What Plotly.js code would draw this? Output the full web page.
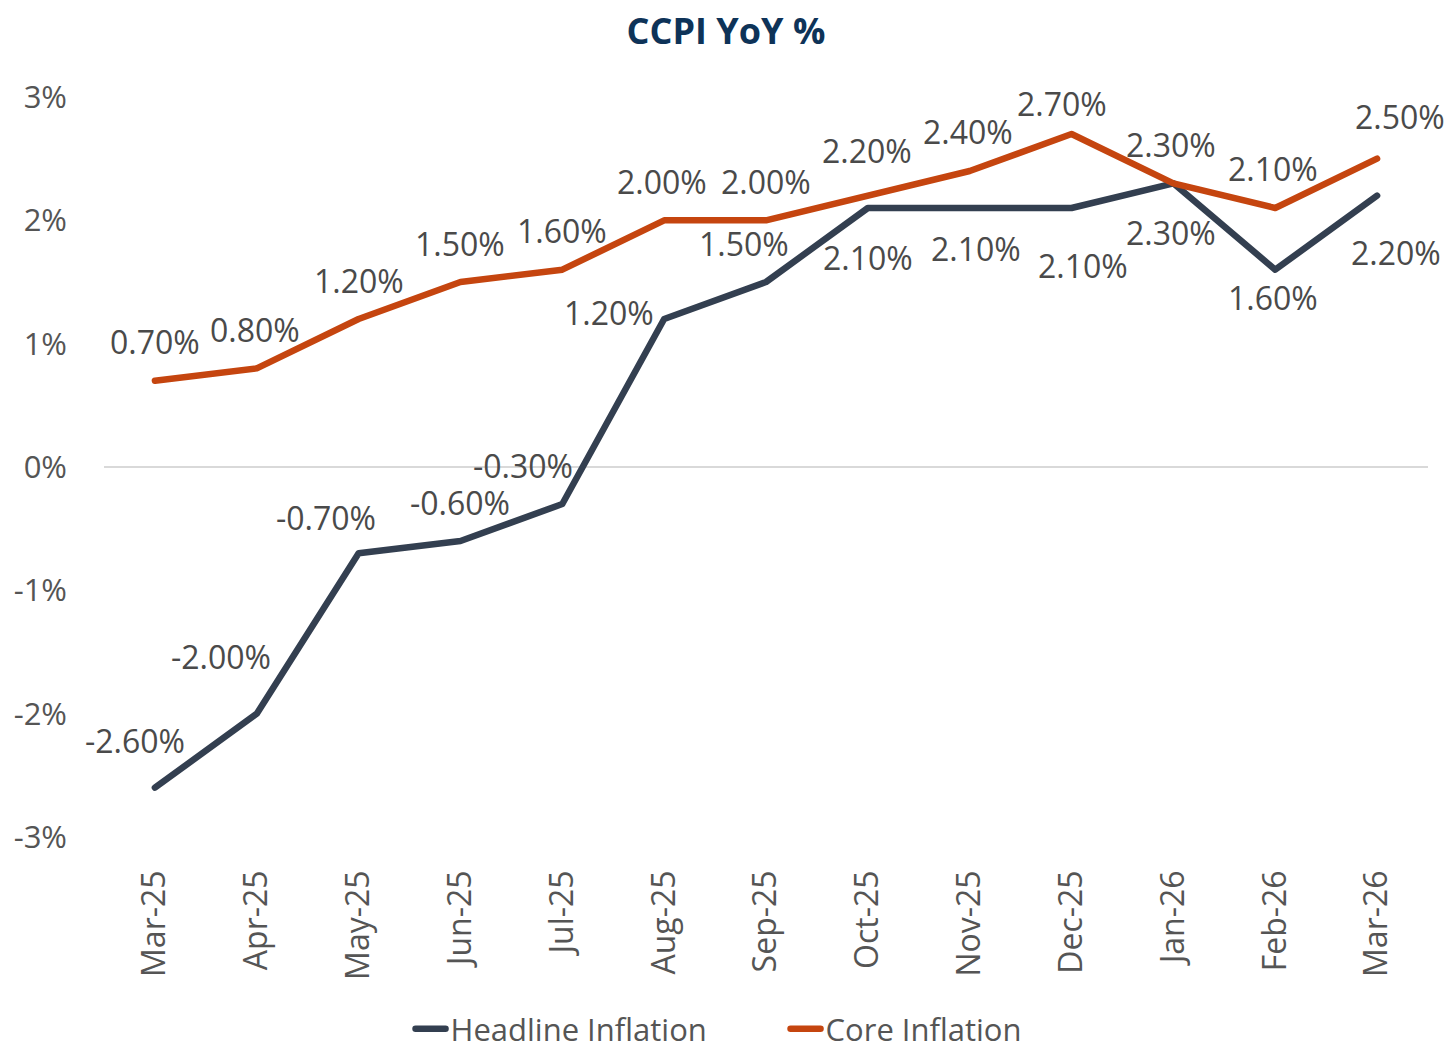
<!DOCTYPE html>
<html>
<head>
<meta charset="utf-8">
<script src="https://cdn.plot.ly/plotly-3.0.1.min.js"></script>
<style>
html,body{margin:0;padding:0;background:#fff;}
#chart{width:1452px;height:1056px;}
#chart path.js-line{stroke-linecap:round;stroke-linejoin:round;}
</style>
</head>
<body>
<div id="chart"></div>
<script>
const categories = ["Mar-25","Apr-25","May-25","Jun-25","Jul-25","Aug-25","Sep-25","Oct-25","Nov-25","Dec-25","Jan-26","Feb-26","Mar-26"];
const headline = [-2.6,-2.0,-0.7,-0.6,-0.3,1.2,1.5,2.1,2.1,2.1,2.3,1.6,2.2];
const core = [0.7,0.8,1.2,1.5,1.6,2.0,2.0,2.2,2.4,2.7,2.3,2.1,2.5];
const yTicks = [-3,-2,-1,0,1,2,3];

// label offsets (pixels) – styling only
const headDx = [-20,-36,-33,0,-39,-55,-22,0,6,11,-2,-2,19];
const headDy = [47,57,36,39,39,7,39,-49,-40,-57,-49,-28,-57];
const coreDx = [0,-2,0,0,0,-2,0,-1,-2,-10,-2,-2,23];
const coreDy = [39,39,39,39,39,39,39,45,40,31,39,40,42];

const headColor = "#333F50";
const coreColor = "#C5450F";
const textColor = "#555555";
const font = "Open Sans, Noto Sans, sans-serif";

const traces = [
  {x: categories, y: headline, name: "Headline Inflation", type: "scatter", mode: "lines",
   line: {color: headColor, width: 6.5}},
  {x: categories, y: core, name: "Core Inflation", type: "scatter", mode: "lines",
   line: {color: coreColor, width: 6.5}}
];

const annotations = [];
categories.forEach((c, i) => {
  annotations.push({x: c, y: headline[i], text: headline[i].toFixed(2) + "%", showarrow: false,
    xshift: headDx[i], yshift: headDy[i], font: {family: font, size: 32, color: "#4A4A4A"}});
  annotations.push({x: c, y: core[i], text: core[i].toFixed(2) + "%", showarrow: false,
    xshift: coreDx[i], yshift: coreDy[i], font: {family: font, size: 32, color: "#4A4A4A"}});
});

const layout = {
  width: 1452, height: 1056,
  margin: {l: 104, r: 24, t: 97, b: 219},
  paper_bgcolor: "#fff", plot_bgcolor: "#fff",
  title: {text: "<b>CCPI YoY %</b>", x: 0.5, xanchor: "center", y: 0.97, yanchor: "middle",
    font: {family: "Open Sans, sans-serif", size: 36, color: "#0E3358"}},
  xaxis: {type: "category", range: [-0.5, 12.5], showgrid: false, zeroline: false, showline: false, ticks: "",
    tickangle: -90, ticklabelstandoff: 26, automargin: false,
    tickfont: {family: font, size: 32, color: textColor}, fixedrange: true},
  yaxis: {range: [-3, 3], tickvals: yTicks, ticktext: yTicks.map(v => v + "%"),
    showgrid: false, zeroline: true, zerolinecolor: "#D9D9D9", zerolinewidth: 1.5,
    showline: false, ticks: "", ticklabelstandoff: 36, automargin: false,
    tickfont: {family: font, size: 31, color: textColor}},
  showlegend: true,
  legend: {orientation: "h", x: 0.541, xanchor: "center", xref: "container",
    y: -0.009, yanchor: "bottom", yref: "container",
    entrywidth: 330, entrywidthmode: "pixels",
    font: {family: font, size: 31, color: textColor}, traceorder: "normal"},
  annotations: annotations
};

Plotly.newPlot("chart", traces, layout, {displayModeBar: false, staticPlot: true});
</script>
</body>
</html>
